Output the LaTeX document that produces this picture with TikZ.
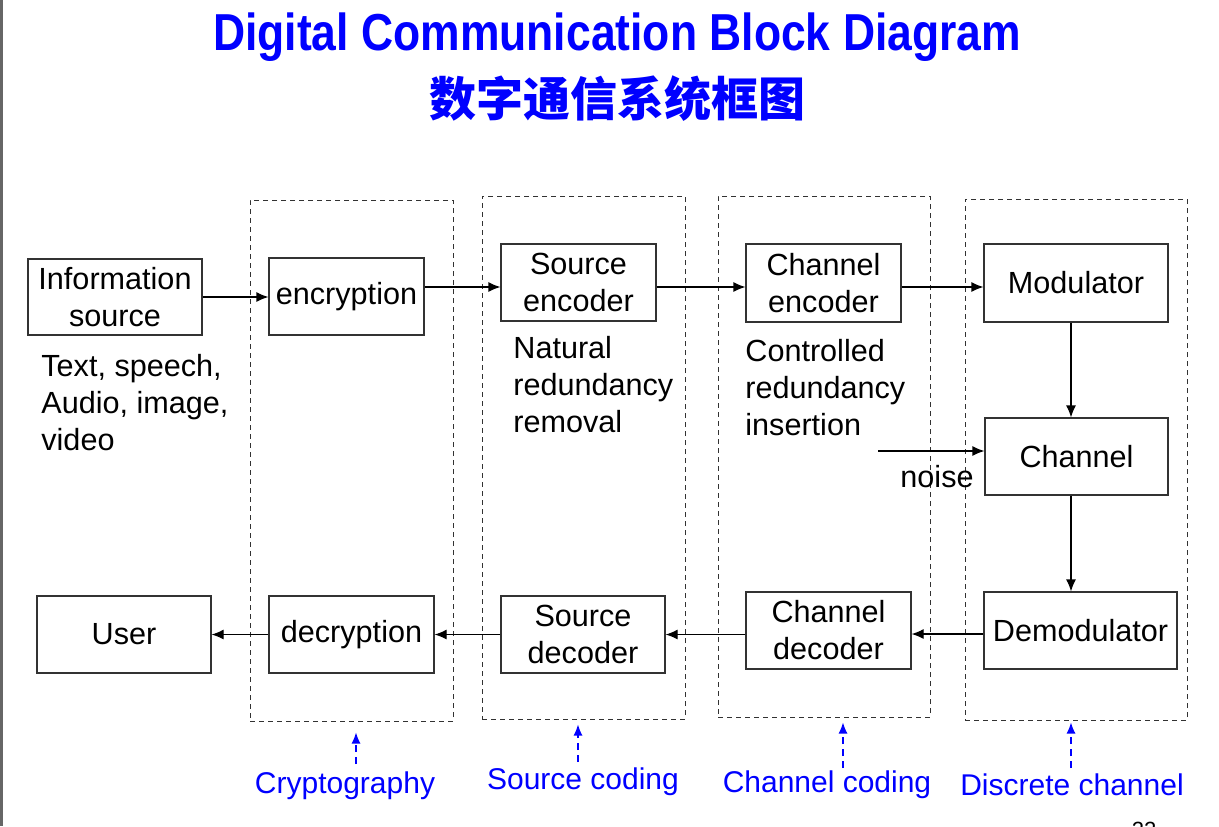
\documentclass[tikz,border=0pt]{standalone}
\usepackage{fontspec}
\setmainfont{Liberation Sans}
\newfontfamily\cjk{Noto Sans CJK SC}
\usetikzlibrary{arrows.meta,calc}
\definecolor{tblue}{RGB}{0,0,255}
\definecolor{edge}{RGB}{50,50,50}
\begin{document}
\begin{tikzpicture}[x=0.5pt,y=-0.5pt,
  box/.style={draw=edge,line width=0.6pt,rectangle,inner sep=0pt,align=center,
    font=\fontsize{15.3}{18.5}\selectfont},
  region/.style={draw=edge,line width=0.5pt,dash pattern=on 2.5pt off 2pt,rectangle,inner sep=0pt},
  arr/.style={-{Latex[length=6pt,width=5pt]},line width=0.6pt,black},
  barr/.style={-{Latex[length=5.5pt,width=4.5pt]},line width=0.6pt,tblue,dash pattern=on 3.5pt off 2.5pt},
  note/.style={anchor=west,align=left,inner sep=0pt,font=\fontsize{15.3}{18.5}\selectfont},
  blab/.style={text=tblue,inner sep=0pt,font=\fontsize{15}{18}\selectfont}]
\useasboundingbox (0,0) rectangle (1219,826);
\fill[white] (0,0) rectangle (1219,826);
\fill[black!60] (0,0) rectangle (3,826);
% titles
\node[anchor=base,text=tblue,inner sep=0pt] (title) at (617,50)
  {\scalebox{0.855}[1]{\fontsize{26}{30}\selectfont\bfseries Digital Communication Block Diagram}};
\node[text=tblue,inner sep=0pt] (subtitle) at (617,99)
  {\fontsize{23.5}{28}\selectfont\cjk\bfseries 数字通信系统框图};
% regions
\node[region,minimum width=101.5pt,minimum height=260.5pt] (rcr) at (351.5,460.5) {};
\node[region,minimum width=101.5pt,minimum height=261.5pt] (rsc) at (583.5,457.5) {};
\node[region,minimum width=106pt,minimum height=260.5pt] (rcc) at (824,456.5) {};
\node[region,minimum width=111pt,minimum height=260.5pt] (rdc) at (1076,459.5) {};
% boxes
\node[box,minimum width=87pt,minimum height=38pt] (info) at (115,297) {Information\\source};
\node[box,minimum width=77.5pt,minimum height=38.5pt] (enc) at (346.5,296.5) {encryption};
\node[box,minimum width=77.5pt,minimum height=38.5pt] (senc) at (578.5,282.5) {Source\\encoder};
\node[box,minimum width=77.5pt,minimum height=39pt] (cenc) at (823.5,283) {Channel\\encoder};
\node[box,minimum width=92pt,minimum height=39pt] (mod) at (1076,283) {Modulator};
\node[box,minimum width=91.5pt,minimum height=38.5pt] (chan) at (1076.5,456.5) {Channel};
\node[box,minimum width=96.5pt,minimum height=38.5pt] (demod) at (1080.5,630.5) {Demodulator};
\node[box,minimum width=82.5pt,minimum height=38.5pt] (cdec) at (828.5,630.5) {Channel\\decoder};
\node[box,minimum width=82pt,minimum height=38.5pt] (sdec) at (583,634.5) {Source\\decoder};
\node[box,minimum width=82.5pt,minimum height=38.5pt] (dec) at (351.5,634.5) {decryption};
\node[box,minimum width=87pt,minimum height=38.5pt] (user) at (124,634.5) {User};
% notes
\node[note] (n1) at (41,403) {Text, speech,\\Audio, image,\\video};
\node[note] (n2) at (513,385) {Natural\\redundancy\\removal};
\node[note] (n3) at (745,388) {Controlled\\redundancy\\insertion};
\node[inner sep=0pt,font=\fontsize{15.3}{18.5}\selectfont] (noise) at (937,477) {noise};
% arrows
\draw[arr] (info.east) -- (info.east -| enc.west);
\draw[arr] ([yshift=-2.25pt]senc.west -| enc.east) -- ([yshift=-2.25pt]senc.west);
\draw[arr] ([yshift=-2pt]cenc.west -| senc.east) -- ([yshift=-2pt]cenc.west);
\draw[arr] ([yshift=-2pt]mod.west -| cenc.east) -- ([yshift=-2pt]mod.west);
\draw[arr] ([xshift=-2.5pt]mod.south) -- ([xshift=-2.5pt]mod.south |- chan.north);
\draw[arr] ([xshift=-2.5pt]mod.south |- chan.south) -- ([xshift=-2.5pt]mod.south |- demod.north);
\draw[arr] ([yshift=-1.75pt]demod.west) -- ([yshift=-1.75pt]demod.west -| cdec.east);
\draw[arr] (sdec.east -| cdec.west) -- (sdec.east);
\draw[arr] (sdec.west) -- (sdec.west -| dec.east);
\draw[arr] (dec.west) -- (dec.west -| user.east);
\coordinate (nz) at (878,451);
\draw[arr] (nz) -- (nz -| chan.west);
% blue labels
\node[blab] (lcr) at (345,786) {Cryptography};
\node[blab] (lsc) at (583,782) {Source coding};
\node[blab] (lcc) at (827,785) {Channel coding};
\node[blab] (ldc) at (1072,785) {Discrete channel};
\coordinate (acr) at (356,764);
\coordinate (asc) at (578,762);
\coordinate (acc) at (843,768);
\coordinate (adc) at (1071,768);
\draw[barr] (acr) -- ([yshift=-5.5pt]acr |- rcr.south);
\draw[barr] (asc) -- ([yshift=-2.5pt]asc |- rsc.south);
\draw[barr] (acc) -- ([yshift=-2.5pt]acc |- rcc.south);
\draw[barr] (adc) -- ([yshift=-1pt]adc |- rdc.south);
\node[anchor=base,inner sep=0pt,font=\fontsize{11}{13}\selectfont] (pg) at (1144,837) {22};
\end{tikzpicture}
\end{document}
